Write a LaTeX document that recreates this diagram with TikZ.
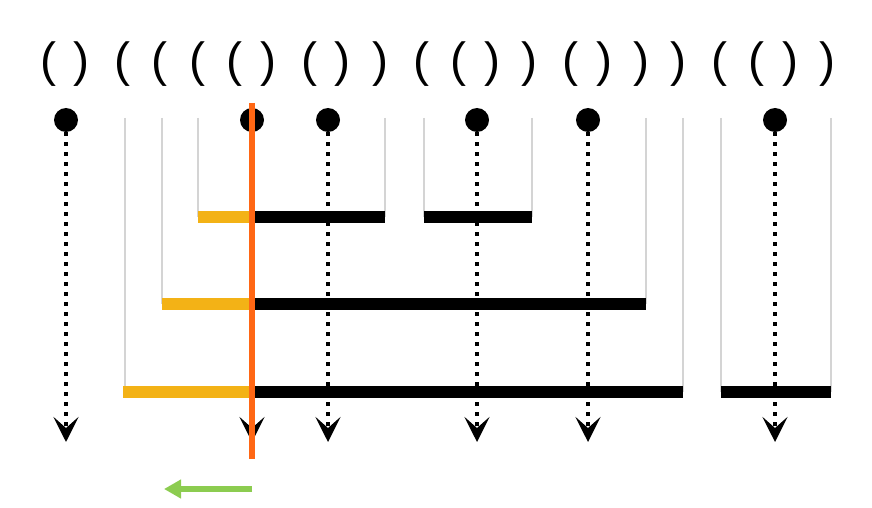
\documentclass[tikz,border=0pt]{standalone}
\usepackage{fontspec}
\setmainfont{Liberation Sans}
\usepackage{tikz}
\usetikzlibrary{arrows.meta}
\definecolor{amber}{RGB}{243, 178, 22}
\definecolor{cut}{RGB}{255, 103, 20}
\definecolor{lime}{RGB}{140, 204, 80}
\definecolor{rail}{RGB}{212, 212, 212}

\begin{document}
\begin{tikzpicture}[x=1pt, y=-1pt,
  leaf/.style={circle, fill=black, minimum size=24pt, inner sep=0},
  flow/.style={-{Stealth[length=25pt, width=25pt, inset=11pt]}, line width=4pt, dash pattern=on 4pt off 6pt},
  wall/.style={draw=rail, line width=1.5pt}]

  \useasboundingbox (0, 0) rectangle (872, 508);

  \foreach \c [count=\i from 0] in {0,1,0,0,0,0,1,0,1,1,0,0,1,1,0,1,1,1,0,0,1,1} {
    \pgfmathsetmacro{\px}{48 + 37.3 * \i - 3.5 * \c}
    \node[inner sep=0, font=\fontsize{48}{48}\selectfont] (p\i) at (\px, 64.5) {\ifnum\c=0 (\else)\fi};
  }

  % brackets
  \foreach \xa/\xb/\y in {125/683/392, 162/646/304, 198/385/217, 424/532/217, 721/831/392} {
    \draw[wall] (\xa, 118) -- (\xa, \y);
    \draw[wall] (\xb, 118) -- (\xb, \y);
  }

  \foreach \x [count=\k] in {66, 252, 328, 477, 588, 775} {
    \node[leaf] (l\k) at (\x, 120) {};
    \coordinate (e\k) at (\x, 442);
    \draw[flow] (l\k.south) -- (e\k);
  }

  \foreach \xa/\xb/\y in {123/683/392, 162/646/304, 198/385/217, 424/532/217, 721/831/392}
    \fill (\xa, \y - 6) rectangle (\xb, \y + 6);
  \foreach \xa/\y in {198/217, 162/304, 123/392}
    \fill[amber] (\xa, \y - 6) rectangle (252, \y + 6);

  \coordinate (top) at (252, 103);
  \coordinate (bottom) at (252, 459);
  \draw[cut, line width=5.5pt] (top) -- (bottom);

  \coordinate (from) at (252, 489);
  \coordinate (to) at (164, 489);
  \draw[-{Triangle[length=17pt, width=18pt]}, lime, line width=6pt] (from) -- (to);

\end{tikzpicture}
\end{document}
